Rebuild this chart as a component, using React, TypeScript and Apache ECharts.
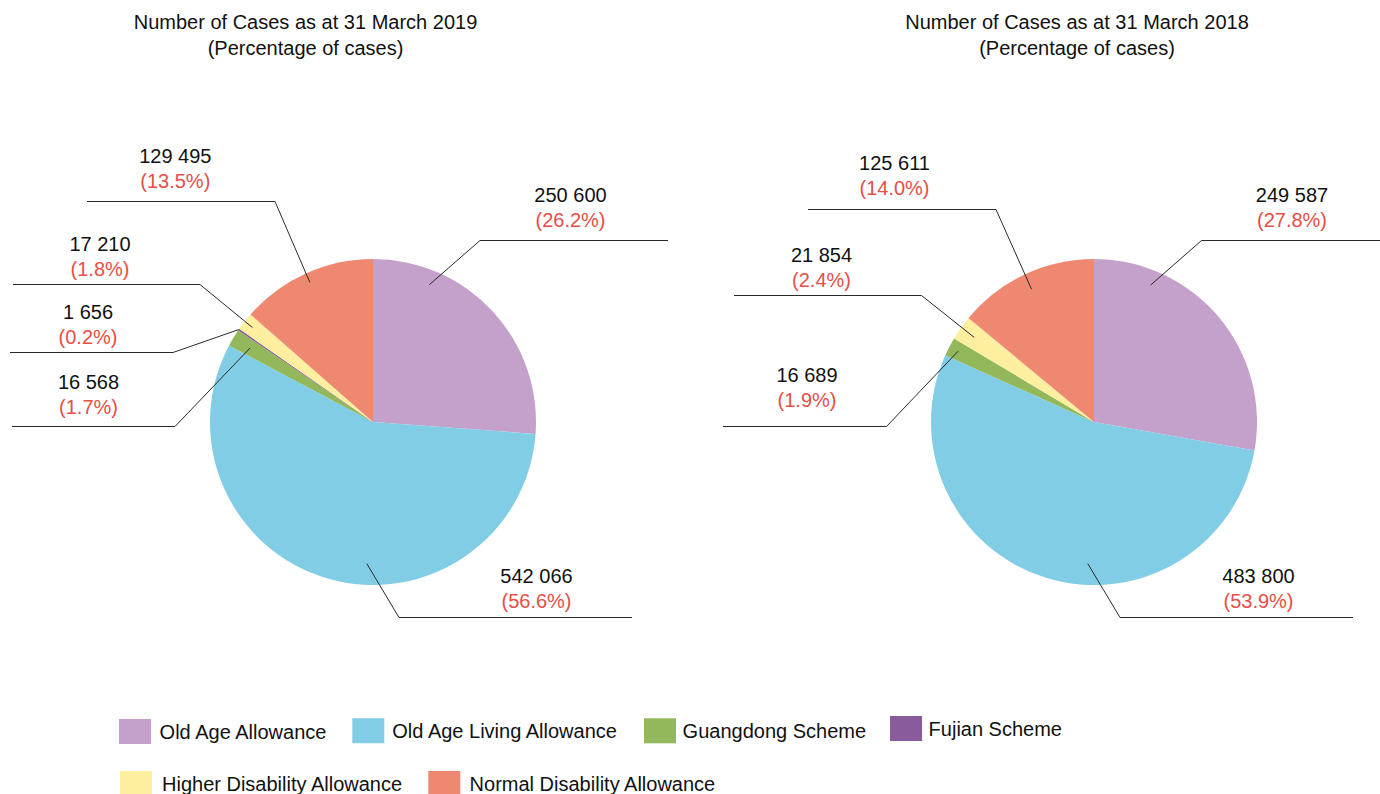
import React, { useEffect, useRef } from 'react';
import * as echarts from 'echarts';

// ---------- data ----------
const categories2019 = [
  'Old Age Allowance',
  'Old Age Living Allowance',
  'Guangdong Scheme',
  'Fujian Scheme',
  'Higher Disability Allowance',
  'Normal Disability Allowance',
];
const cases2019 = [250600, 542066, 16568, 1656, 17210, 129495];

const categories2018 = [
  'Old Age Allowance',
  'Old Age Living Allowance',
  'Guangdong Scheme',
  'Higher Disability Allowance',
  'Normal Disability Allowance',
];
const cases2018 = [249587, 483800, 16689, 21854, 125611];

const titleTexts = [
  'Number of Cases as at 31 March 2019\n(Percentage of cases)',
  'Number of Cases as at 31 March 2018\n(Percentage of cases)',
];

const legendNames = [
  'Old Age Allowance',
  'Old Age Living Allowance',
  'Guangdong Scheme',
  'Fujian Scheme',
  'Higher Disability Allowance',
  'Normal Disability Allowance',
];

// ---------- styles / layout ----------
const FONT = '"Liberation Sans", Arial, Helvetica, sans-serif';
const colorMap: Record<string, string> = {
  'Old Age Allowance': '#C4A1CB',
  'Old Age Living Allowance': '#81CDE6',
  'Guangdong Scheme': '#93B75B',
  'Fujian Scheme': '#8A5B9C',
  'Higher Disability Allowance': '#FEEEA0',
  'Normal Disability Allowance': '#EF8870',
};

type LabelPos = { bend: [number, number]; endX: number; text: [number, number]; r: number; angle?: number };

const RADIUS = 163;
const center2019: [number, number] = [373, 422];
const center2018: [number, number] = [1094, 422];

const labelPos2019: LabelPos[] = [
  { angle: 22.3, r: 0.91, bend: [480, 240.5], endX: 668, text: [570.5, 232.5] },
  { angle: 182.5, r: 0.87, bend: [399, 617.5], endX: 632, text: [536.5, 613.5] },
  { r: 0.88, bend: [175, 426.5], endX: 12, text: [88.5, 419.5] },
  { r: 1.0, bend: [173, 352.5], endX: 10, text: [88, 349.5] },
  { r: 0.94, bend: [200, 284.5], endX: 13, text: [100, 281.5] },
  { r: 0.94, bend: [275, 201.5], endX: 87, text: [175.3, 193.5] },
];

const labelPos2018: LabelPos[] = [
  { angle: 22.5, r: 0.91, bend: [1201.5, 240.5], endX: 1380, text: [1292, 232.5] },
  { angle: 182.5, r: 0.87, bend: [1120, 617.5], endX: 1353, text: [1258.5, 613.5] },
  { r: 0.94, bend: [886.5, 426.5], endX: 723, text: [807, 412.2] },
  { r: 0.9, bend: [921.5, 295.5], endX: 734, text: [821.5, 292.2] },
  { r: 0.9, bend: [996, 209.5], endX: 808, text: [894.5, 200.5] },
];

const legendPos = [
  { left: 119, top: 719, pad: 3.6 },
  { left: 352.3, top: 718.3, pad: 3 },
  { left: 644, top: 718.3, pad: 1.6 },
  { left: 890, top: 716, pad: 1.6 },
  { left: 120, top: 771, pad: 5 },
  { left: 428.3, top: 771, pad: 4.3 },
];

function fmtNum(v: number): string {
  return String(v).replace(/\B(?=(\d{3})+(?!\d))/g, ' ');
}

function baseSeries(names: string[], values: number[], center: [number, number]) {
  return {
    type: 'pie',
    center,
    radius: RADIUS,
    startAngle: 90,
    clockwise: true,
    avoidLabelOverlap: false,
    silent: true,
    emphasis: { disabled: true },
    z: 2,
    data: names.map((n, i) => ({ name: n, value: values[i], itemStyle: { color: colorMap[n] } })),
    label: { show: false },
    labelLine: { show: false },
  };
}

function labelSeries(names: string[], values: number[], center: [number, number], pos: LabelPos[]) {
  const total = values.reduce((a, b) => a + b, 0);
  const mids: number[] = [];
  let acc = 0;
  values.forEach((v) => {
    mids.push(((acc + v / 2) / total) * 360);
    acc += v;
  });
  return {
    type: 'pie',
    center,
    radius: RADIUS,
    startAngle: 90,
    clockwise: true,
    avoidLabelOverlap: false,
    silent: true,
    emphasis: { disabled: true },
    z: 5,
    data: names.map((n, i) => ({ name: n, value: values[i], itemStyle: { color: 'rgba(0,0,0,0)' } })),
    label: {
      show: true,
      position: 'outside',
      fontFamily: FONT,
      formatter: (p: any) =>
        `{v|${fmtNum(p.value)}}\n{p|(${((p.value / total) * 100).toFixed(1)}%)}`,
      rich: {
        v: { fontSize: 20, lineHeight: 25, color: '#111', fontFamily: FONT, align: 'center' },
        p: { fontSize: 20, lineHeight: 25, color: '#E84E47', fontFamily: FONT, align: 'center' },
      },
    },
    labelLine: { show: true, length: 10, length2: 10, lineStyle: { color: '#2a2a2a', width: 1 } },
    labelLayout: (params: any) => {
      const i = params.dataIndex;
      const p = pos[i];
      const ang = ((p.angle ?? mids[i]) * Math.PI) / 180;
      const sx = center[0] + Math.sin(ang) * RADIUS * p.r;
      const sy = center[1] - Math.cos(ang) * RADIUS * p.r;
      return {
        x: p.text[0],
        y: p.text[1],
        align: 'center',
        verticalAlign: 'bottom',
        labelLinePoints: [
          [sx, sy],
          [p.bend[0], p.bend[1]],
          [p.endX, p.bend[1]],
        ],
      };
    },
  };
}

export default function App() {
  const ref = useRef<HTMLDivElement>(null);
  useEffect(() => {
    if (!ref.current) return;
    const chart = echarts.init(ref.current, undefined, { renderer: 'svg' });
    const option: any = {
      animation: false,
      backgroundColor: '#ffffff',
      textStyle: { fontFamily: FONT },
      title: [
        {
          text: titleTexts[0],
          left: 305.5,
          top: 9,
          textAlign: 'center',
          padding: 0,
          textStyle: { fontSize: 20, fontWeight: 'normal', color: '#111', lineHeight: 26, fontFamily: FONT },
        },
        {
          text: titleTexts[1],
          left: 1077,
          top: 9,
          textAlign: 'center',
          padding: 0,
          textStyle: { fontSize: 20, fontWeight: 'normal', color: '#111', lineHeight: 26, fontFamily: FONT },
        },
      ],
      legend: legendNames.map((n, i) => ({
        data: [n],
        left: legendPos[i].left,
        top: legendPos[i].top,
        padding: 0,
        itemWidth: 32,
        itemHeight: 25,
        icon: 'rect',
        selectedMode: false,
        textStyle: { fontSize: 20, color: '#111', fontFamily: FONT, padding: [0, 0, 0, legendPos[i].pad] },
      })),
      series: [
        baseSeries(categories2019, cases2019, center2019),
        baseSeries(categories2018, cases2018, center2018),
        labelSeries(categories2019, cases2019, center2019, labelPos2019),
        labelSeries(categories2018, cases2018, center2018, labelPos2018),
      ],
    };
    chart.setOption(option);
    return () => chart.dispose();
  }, []);
  return (
    <div
      ref={ref}
      style={{ position: 'fixed', left: 0, top: 0, width: 1380, height: 794, background: '#fff' }}
    />
  );
}
